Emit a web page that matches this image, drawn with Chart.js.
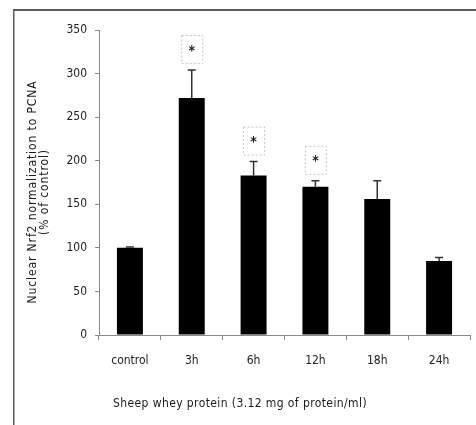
<!DOCTYPE html>
<html>
<head>
<meta charset="utf-8">
<script src="https://cdn.jsdelivr.net/npm/chart.js@4/dist/chart.umd.min.js"></script>
<style>
  html, body { margin: 0; padding: 0; background: #ffffff; }
  #wrap { width: 476px; height: 425px; }
</style>
</head>
<body>
<div id="wrap"><canvas id="chart" width="476" height="425"></canvas></div>
<script>
// Nuclear Nrf2 (normalised to PCNA) after sheep whey protein exposure
const categories = ['control', '3h', '6h', '12h', '18h', '24h'];
const meanValues = [100, 272, 183, 170, 156, 85];
const errorValues = [1, 32, 16, 7, 21, 4];
const significance = ['', '*', '*', '*', '', ''];
const yTickValues = [0, 50, 100, 150, 200, 250, 300, 350];
const yTitleLines = ['Nuclear Nrf2 normalization to PCNA', '(% of control)'];
const xTitle = 'Sheep whey protein (3.12 mg of protein/ml)';

const FONT = "'Liberation Sans Narrow', 'DejaVu Sans Condensed', 'Liberation Sans', sans-serif";

// upper error whiskers, significance boxes, frame and axis titles
const decorations = {
  id: 'decorations',
  beforeDraw(chart) {
    const ctx = chart.ctx;
    ctx.save();
    ctx.fillStyle = '#ffffff';
    ctx.fillRect(0, 0, chart.width, chart.height);
    ctx.restore();
  },
  afterDatasetsDraw(chart) {
    const ctx = chart.ctx;
    const y = chart.scales.y;
    const meta = chart.getDatasetMeta(0);
    ctx.save();
    meta.data.forEach((bar, i) => {
      const top = y.getPixelForValue(meanValues[i] + errorValues[i]);
      const base = y.getPixelForValue(meanValues[i]);
      ctx.strokeStyle = '#333333';
      ctx.lineWidth = 1.5;
      ctx.beginPath();
      ctx.moveTo(bar.x, base);
      ctx.lineTo(bar.x, top);
      ctx.moveTo(bar.x - 4, top);
      ctx.lineTo(bar.x + 4, top);
      ctx.stroke();

      if (significance[i]) {
        const w = 21, h = 28;
        const bx = bar.x - w / 2;
        const by = top - 7 - h;
        ctx.strokeStyle = '#c4c4c4';
        ctx.lineWidth = 1;
        ctx.setLineDash([2, 2]);
        ctx.strokeRect(bx + 0.5, by + 0.5, w, h);
        ctx.setLineDash([]);
        ctx.fillStyle = '#1a1a1a';
        ctx.font = 'bold 14px ' + FONT;
        ctx.textAlign = 'center';
        ctx.textBaseline = 'middle';
        ctx.fillText(significance[i], bar.x, by + h / 2 + 2);
      }
    });
    ctx.restore();
  },
  afterDraw(chart) {
    const ctx = chart.ctx;
    ctx.save();
    // frame
    ctx.strokeStyle = '#5a5a5a';
    ctx.lineWidth = 2;
    ctx.beginPath();
    ctx.moveTo(13, 10);
    ctx.lineTo(chart.width, 10);
    ctx.stroke();
    ctx.lineWidth = 1.5;
    ctx.beginPath();
    ctx.moveTo(13.75, 10);
    ctx.lineTo(13.75, chart.height);
    ctx.stroke();

    // y axis title
    ctx.fillStyle = '#1a1a1a';
    ctx.font = '12px ' + FONT;
    ctx.letterSpacing = '0.9px';
    ctx.textAlign = 'center';
    ctx.textBaseline = 'middle';
    const cy = 192;
    [33, 45].forEach((x, k) => {
      ctx.save();
      ctx.translate(x, cy);
      ctx.rotate(-Math.PI / 2);
      ctx.fillText(yTitleLines[k], 0, 0);
      ctx.restore();
    });

    // x axis title
    ctx.letterSpacing = '0.4px';
    ctx.font = '12px ' + FONT;
    ctx.fillText(xTitle, 240, 404);
    ctx.restore();
  }
};

new Chart(document.getElementById('chart'), {
  type: 'bar',
  data: {
    labels: categories,
    datasets: [{
      data: meanValues,
      backgroundColor: '#000000',
      borderWidth: 0,
      barPercentage: 0.42,
      categoryPercentage: 1.0
    }]
  },
  options: {
    responsive: false,
    animation: false,
    devicePixelRatio: 1,
    layout: { padding: { left: 0, right: 6, top: 30, bottom: 0 } },
    plugins: {
      legend: { display: false },
      tooltip: { enabled: false }
    },
    scales: {
      x: {
        grid: { display: true, offset: true, drawOnChartArea: false, drawTicks: true, tickLength: 5, color: '#8a8a8a' },
        border: { color: '#8a8a8a', width: 1 },
        ticks: { color: '#222222', padding: 14, font: { family: FONT, size: 12 } },
        afterFit(scale) { scale.height = 90; }
      },
      y: {
        min: 0,
        max: 350,
        afterBuildTicks(scale) { scale.ticks = yTickValues.map(v => ({ value: v })); },
        grid: { display: true, drawOnChartArea: false, drawTicks: true, tickLength: 4, color: '#8a8a8a' },
        border: { color: '#8a8a8a', width: 1 },
        ticks: { color: '#222222', padding: 8, font: { family: FONT, size: 12 } },
        afterFit(scale) { scale.width = 99; }
      }
    }
  },
  plugins: [decorations]
});
</script>
</body>
</html>
